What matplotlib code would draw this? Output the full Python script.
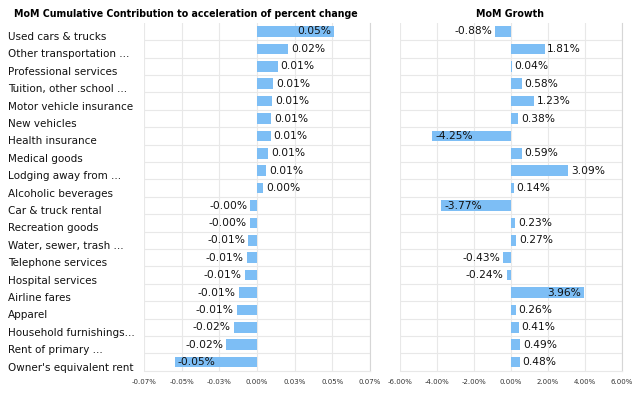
import numpy as np
import matplotlib.pyplot as plt
import matplotlib.transforms as mtransforms

# categories, top to bottom
categories = [
    'Used cars & trucks', 'Other transportation ...', 'Professional services',
    'Tuition, other school ...', 'Motor vehicle insurance', 'New vehicles',
    'Health insurance', 'Medical goods', 'Lodging away from ...',
    'Alcoholic beverages', 'Car & truck rental', 'Recreation goods',
    'Water, sewer, trash ...', 'Telephone services', 'Hospital services',
    'Airline fares', 'Apparel', 'Household furnishings...', 'Rent of primary ...',
    "Owner's equivalent rent",
]

# MoM cumulative contribution (percent)
contribution = [
    0.0513, 0.0207, 0.0137, 0.0108, 0.0101, 0.0095, 0.0090, 0.0074, 0.0061, 0.0043,
    -0.0044, -0.0049, -0.0057, -0.0068, -0.0081, -0.0122, -0.0135, -0.0155, -0.0203, -0.0545,
]

# MoM growth (percent)
growth = [
    -0.88, 1.81, 0.04, 0.58, 1.23, 0.38, -4.25, 0.59, 3.09, 0.14,
    -3.77, 0.23, 0.27, -0.43, -0.24, 3.96, 0.26, 0.41, 0.49, 0.48,
]

left_ticks = [-0.075, -0.05, -0.025, 0.0, 0.025, 0.05, 0.075]
left_ticklabels = ['-0.07%', '-0.05%', '-0.03%', '0.00%', '0.03%', '0.05%', '0.07%']
right_ticks = [-6, -4, -2, 0, 2, 4, 6]
right_ticklabels = ['-6.00%', '-4.00%', '-2.00%', '0.00%', '2.00%', '4.00%', '6.00%']

BAR_COLOR = '#7dbef5'
GRID_COLOR = '#e8e8e8'

fig = plt.figure(figsize=(6.4, 4.0), dpi=100)
ax1 = fig.add_axes([0.225, 0.073, 0.353, 0.87])
ax2 = fig.add_axes([0.625, 0.073, 0.347, 0.87])

y = np.arange(len(categories))


def draw_panel(ax, values, lim, ticks, ticklabels):
    ax.barh(y, values, height=0.62, color=BAR_COLOR, zorder=2)
    ax.set_xlim(-lim, lim)
    ax.set_ylim(len(categories) - 0.5, -0.5)
    ax.set_xticks(ticks)
    ax.set_xticklabels(ticklabels, fontsize=5, color='#333333')
    ax.set_yticks(np.arange(len(categories) - 1) + 0.5, minor=True)
    ax.set_yticks(y)
    ax.set_yticklabels([])
    ax.tick_params(axis='both', which='both', length=0)
    ax.tick_params(axis='x', pad=6)
    ax.grid(axis='x', which='major', color=GRID_COLOR, linewidth=0.8, zorder=0)
    ax.grid(axis='y', which='minor', color=GRID_COLOR, linewidth=0.8, zorder=0)
    for side in ['top', 'left']:
        ax.spines[side].set_visible(False)
    ax.spines['right'].set_color('#d6d6d6')
    ax.spines['bottom'].set_color(GRID_COLOR)

    # value labels
    for yi, v in zip(y, values):
        txt = f'{v:.2f}%'
        if abs(v) > 0.55 * lim:
            # inside the bar, at its outer end
            ha = 'right' if v > 0 else 'left'
            off = -2 if v > 0 else 2
        else:
            ha = 'left' if v >= 0 else 'right'
            off = 2 if v >= 0 else -2
        ax.annotate(txt, (v, yi), xytext=(off, 0), textcoords='offset points',
                    ha=ha, va='center', fontsize=7.7, color='#111111', zorder=3)


draw_panel(ax1, contribution, 0.075, left_ticks, left_ticklabels)
draw_panel(ax2, growth, 6, right_ticks, right_ticklabels)

# category labels, left aligned at the figure edge, sitting a bit below the bars
label_trans = mtransforms.blended_transform_factory(fig.transFigure, ax1.transData)
label_trans = label_trans + mtransforms.ScaledTranslation(0, -0.055, fig.dpi_scale_trans)
for yi, name in zip(y, categories):
    ax1.text(0.0125, yi, name, transform=label_trans, ha='left', va='center',
             fontsize=7.5, color='#111111')

fig.text(0.29, 0.966, 'MoM Cumulative Contribution to acceleration of percent change',
         ha='center', va='center', fontsize=6.85, fontweight='bold')
fig.text(0.797, 0.966, 'MoM Growth', ha='center', va='center', fontsize=6.85, fontweight='bold')

plt.savefig('out.png', dpi=100)
plt.close()
